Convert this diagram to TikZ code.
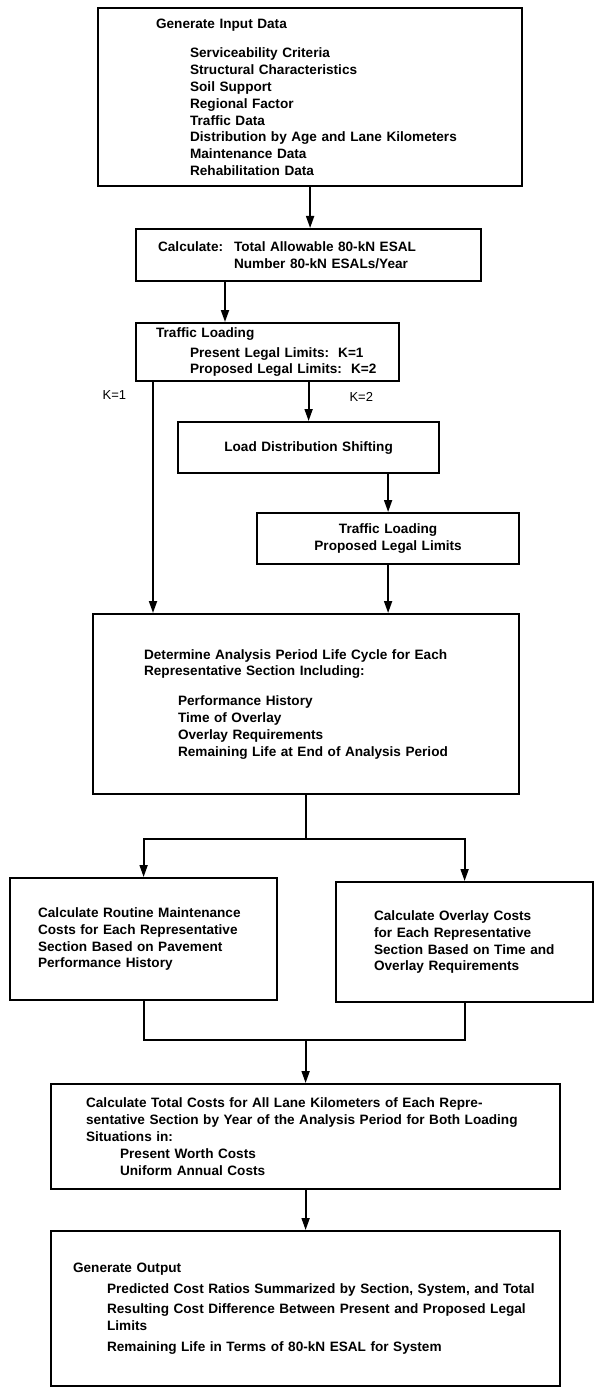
\documentclass[tikz,border=0pt]{standalone}
\usepackage{fontspec}
\setmainfont{Liberation Sans}
\usetikzlibrary{arrows.meta,positioning}

\newcommand{\boxfont}{\fontsize{13.6}{16.8}\selectfont\bfseries}
\newcommand{\labelfont}{\fontsize{13}{15}\selectfont}
\newcommand{\indline}{\hspace*{34pt}}

\begin{document}
\begin{tikzpicture}[
  x=1pt,y=-1pt,
  box/.style={draw,line width=2.2pt,rectangle,anchor=north west,align=left,font=\boxfont,inner ysep=2pt},
  centre box/.style={box,align=center,inner xsep=10pt},
  line/.style={line width=1.8pt},
  arr/.style={line,-{Triangle[length=12pt,width=8pt]}},
  klabel/.style={font=\labelfont,inner sep=0},
]
  \useasboundingbox (0,0) rectangle (594,1388);

  \node[box,minimum width=424pt,minimum height=178pt,inner xsep=58pt,text width=308pt] (input) at (97,7)
    {Generate Input Data\\[13pt]
     \indline Serviceability Criteria\\
     \indline Structural Characteristics\\
     \indline Soil Support\\
     \indline Regional Factor\\
     \indline Traffic Data\\
     \indline Distribution by Age and Lane Kilometers\\
     \indline Maintenance Data\\
     \indline Rehabilitation Data};
  \node[box,minimum width=345pt,minimum height=52pt,inner xsep=22pt,text width=301pt] (calc) at (135,228)
    {\makebox[76pt][l]{Calculate:}Total Allowable 80-kN ESAL\\
     \hspace*{76pt}Number 80-kN ESALs/Year};
  \node[box,minimum width=263pt,minimum height=58pt,inner xsep=20pt,text width=223pt] (traffic) at (135,322)
    {Traffic Loading\\[3pt]
     \indline Present Legal Limits:\ \ K=1\\
     \indline Proposed Legal Limits:\ \ K=2};
  \node[centre box,minimum width=261pt,minimum height=51pt,text width=241pt] (shift) at (177,421)
    {Load Distribution Shifting};
  \node[centre box,minimum width=262pt,minimum height=51pt,text width=242pt] (proposed) at (256,512)
    {Traffic Loading\\Proposed Legal Limits};
  \node[box,minimum width=426pt,minimum height=180pt,inner xsep=51pt,text width=324pt] (life) at (92,613)
    {Determine Analysis Period Life Cycle for Each\\
     Representative Section Including:\\[13pt]
     \indline Performance History\\
     \indline Time of Overlay\\
     \indline Overlay Requirements\\
     \indline Remaining Life at End of Analysis Period};
  \node[box,minimum width=267pt,minimum height=122pt,inner xsep=28pt,text width=211pt] (maint) at (9,877)
    {Calculate Routine Maintenance\\
     Costs for Each Representative\\
     Section Based on Pavement\\
     Performance History};
  \node[box,minimum width=257pt,minimum height=120pt,inner xsep=38pt,text width=181pt] (overlay) at (335,881)
    {Calculate Overlay Costs\\
     for Each Representative\\
     Section Based on Time and\\
     Overlay Requirements};
  \node[box,minimum width=509pt,minimum height=105pt,inner xsep=35pt,text width=439pt] (total) at (50,1083)
    {Calculate Total Costs for All Lane Kilometers of Each Repre-\\
     sentative Section by Year of the Analysis Period for Both Loading\\
     Situations in:\\
     \indline Present Worth Costs\\
     \indline Uniform Annual Costs};
  \node[box,minimum width=509pt,minimum height=155pt,inner xsep=22pt,text width=465pt] (output) at (50,1230)
    {Generate Output\\[4pt]
     \indline Predicted Cost Ratios Summarized by Section, System, and Total\\[4pt]
     \indline Resulting Cost Difference Between Present and Proposed Legal\\
     \indline Limits\\[4pt]
     \indline Remaining Life in Terms of 80-kN ESAL for System};

  \coordinate (calcout) at ([xshift=90pt]traffic.north west);
  \coordinate (kone) at ([xshift=18pt]traffic.south west);
  \coordinate (split) at ([yshift=-44pt]life.south);
  \coordinate (merge) at ([yshift=43pt]total.north);

  \draw[arr] (input.south) -- (input.south |- calc.north);
  \draw[arr] (calcout |- calc.south) -- (calcout);
  \draw[arr] (kone) -- node[klabel,pos=0.056,left=26pt] (labelone) {K=1} (kone |- life.north);
  \draw[arr] (shift.north |- traffic.south) -- node[klabel,pos=0.37,right=40pt] (labeltwo) {K=2} (shift.north);
  \draw[arr] (proposed.north |- shift.south) -- (proposed.north);
  \draw[arr] (proposed.south) -- (proposed.south |- life.north);
  \draw[line] (life.south) -- (split);
  \draw[arr] (split) -| (maint.north);
  \draw[arr] (split) -| (overlay.north);
  \draw[line] (maint.south) |- (merge) -| (overlay.south);
  \draw[arr] (merge) -- (total.north);
  \draw[arr] (total.south) -- (output.north);
\end{tikzpicture}
\end{document}
